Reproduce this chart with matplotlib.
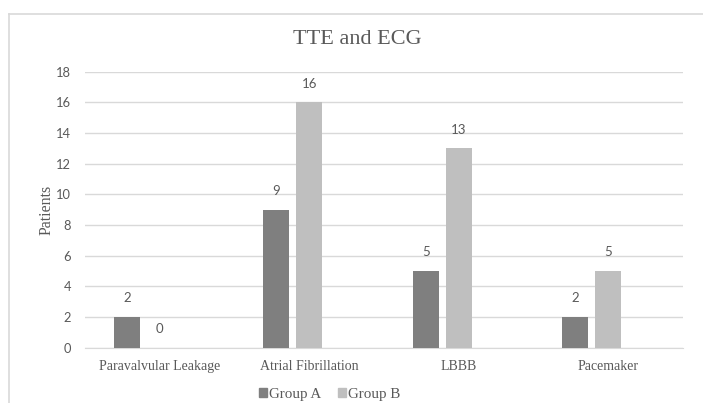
import matplotlib
matplotlib.use("Agg")
import matplotlib.pyplot as plt
import numpy as np
from matplotlib.lines import Line2D
from matplotlib.patches import Patch

categories = ["Paravalvular Leakage", "Atrial Fibrillation", "LBBB", "Pacemaker"]
group_a = [2, 9, 5, 2]
group_b = [0, 16, 13, 5]
series_names = ["Group A", "Group B"]
yticks = [0, 2, 4, 6, 8, 10, 12, 14, 16, 18]

col_a = "#7f7f7f"
col_b = "#bfbfbf"
txt = "#595959"
grid = "#d9d9d9"
serif = "Liberation Serif"
sans = "Lato"

fig = plt.figure(figsize=(7.03, 4.03), dpi=100)
ax = fig.add_axes([0.121, 0.1377, 0.8506, 0.6843])

x = np.arange(len(categories))
w = 0.174
step = 0.221
bars_a = ax.bar(x - step, group_a, w, color=col_a, zorder=3)
bars_b = ax.bar(x, group_b, w, color=col_b, zorder=3)

for bars in (bars_a, bars_b):
    for r in bars:
        h = r.get_height()
        ax.annotate(f"{int(h)}", (r.get_x() + r.get_width() / 2, h),
                    xytext=(0, 9), textcoords="offset points",
                    ha="center", va="bottom", fontsize=9.5,
                    family=sans, color=txt)

ax.set_xlim(-0.5, len(categories) - 0.5)
ax.set_ylim(0, 18)
ax.set_yticks(yticks)
ax.yaxis.grid(True, color=grid, linewidth=1, zorder=0)
ax.tick_params(axis="y", length=0, pad=10, labelsize=9.3, labelcolor=txt)
for lab in ax.get_yticklabels():
    lab.set_family(sans)
ax.set_xticks(x)
ax.set_xticklabels(categories, family=serif, fontsize=10, color=txt)
ax.tick_params(axis="x", length=0, pad=9)
for s in ("top", "right", "left"):
    ax.spines[s].set_visible(False)
ax.spines["bottom"].set_color(grid)

ax.set_ylabel("Patients", family=serif, fontsize=11.5, color=txt, labelpad=1)
fig.text(357.5 / 703, 1 - 39 / 403, "TTE and ECG", ha="center", va="center",
         family=serif, fontsize=16, color=txt)

handles = [Patch(color=col_a), Patch(color=col_b)]
leg = fig.legend(handles, series_names, loc="center", bbox_to_anchor=(0.469, 0.022),
                 ncol=2, frameon=False, handlelength=0.55, handleheight=0.55,
                 handletextpad=0.15, columnspacing=1.1,
                 prop={"family": serif, "size": 10.8})
for t in leg.get_texts():
    t.set_color(txt)

# chart frame (top and left edges visible)
fig.add_artist(Line2D([9 / 703, 1], [1 - 14 / 403] * 2, color=grid, lw=1.2,
                      transform=fig.transFigure))
fig.add_artist(Line2D([9 / 703] * 2, [0, 1 - 14 / 403], color=grid, lw=1.2,
                      transform=fig.transFigure))

fig.savefig("out.png", dpi=100)
